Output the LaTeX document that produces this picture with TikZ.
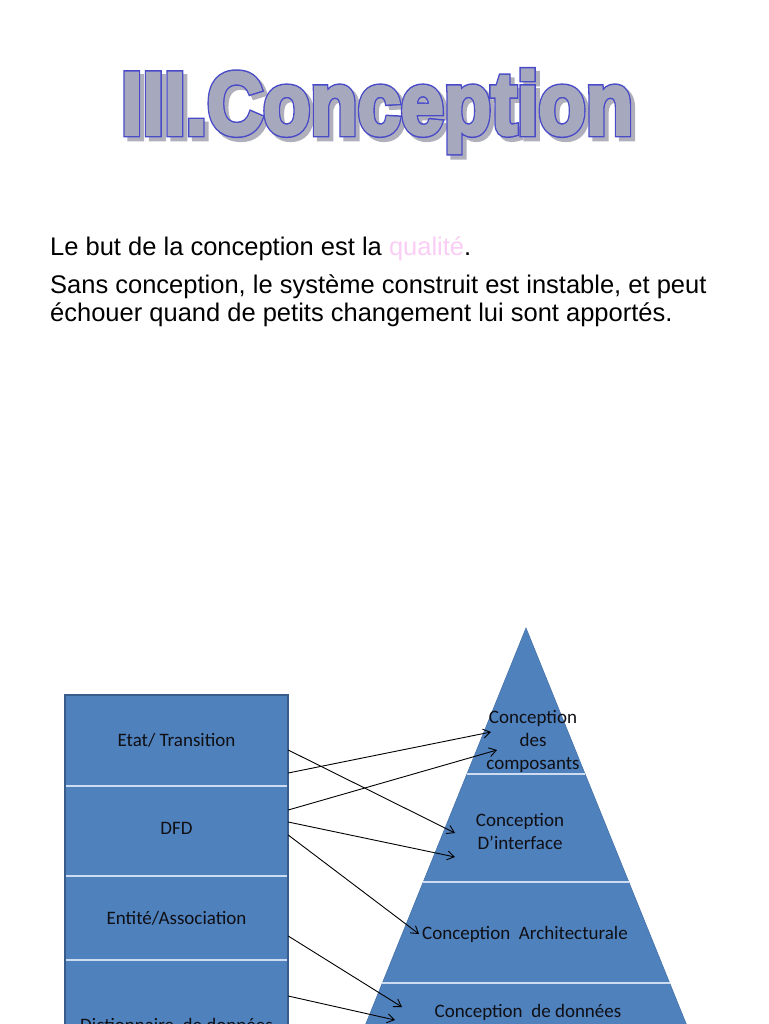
\documentclass[tikz,border=0pt]{standalone}
\usepackage{fontspec}
\setmainfont{Liberation Sans}
\newfontfamily\cpcalibri{Carlito}
\usetikzlibrary{arrows.meta,calc}
\definecolor{CpBlue}{RGB}{79,129,189}
\definecolor{CpEdge}{RGB}{56,93,138}
\definecolor{CpSep}{RGB}{205,220,240}
\definecolor{CpTitle}{RGB}{166,168,190}
\definecolor{CpTitleLine}{RGB}{72,74,200}
\definecolor{CpShadow}{RGB}{176,176,188}
\definecolor{CpPink}{RGB}{250,205,245}
\definecolor{CpInk}{RGB}{15,15,20}
% stroked text: #1 = stroke width, #2 = stroke colour (rgb)
\newcommand\cpstroke[3]{\special{pdf:literal direct 2 Tr #1 w 0 j 3 M #2 RG}#3\special{pdf:literal direct 0 Tr}}
\tikzset{
  cp/title/.style={
    anchor=base,
    inner sep=0pt,
    xscale=0.88,
    font=\fontsize{88}{90}\selectfont\bfseries
  },
  cp/body/.style={
    anchor=base west,
    inner sep=0pt,
    text=black,
    font=\fontsize{25.5}{30}\selectfont
  },
  cp/cell/.style={
    fill=CpBlue,
    minimum width=223pt,
    inner sep=0pt,
    text=CpInk,
    font=\cpcalibri\fontsize{19}{23}\selectfont
  },
  cp/layer/.style={
    align=center,
    inner sep=3pt,
    text=CpInk,
    font=\cpcalibri\fontsize{19}{23}\selectfont
  },
  cp/sep/.style={draw=CpSep, line width=2pt},
  cp/arrow/.style={-{Straight Barb[length=7pt,width=9pt]}, line width=0.9pt, draw=black}
}

\begin{document}
\begin{tikzpicture}[x=1pt,y=-1pt]
  \useasboundingbox (0,0) rectangle (768,1024);
  \clip (0,0) rectangle (768,1024);
  \fill[white] (0,0) rectangle (768,1024);

  % title
  \node[cp/title,text=CpShadow] (shadow) at (381,138) {\cpstroke{6.5}{0.69 0.69 0.737}{III.Conception}};
  \node[cp/title,text=CpTitleLine] (outline) at (377,134) {\cpstroke{6.5}{0.282 0.29 0.784}{III.Conception}};
  \node[cp/title,text=CpTitle] (title) at (377,134) {\cpstroke{3.5}{0.651 0.659 0.745}{III.Conception}};

  % text
  \node[cp/body] (line1) at (50,255) {Le but de la conception est la \textcolor{CpPink}{qualité}.};
  \node[cp/body] (line2) at (50,293) {Sans conception, le système construit est instable, et peut};
  \node[cp/body] (line3) at (50,321) {échouer quand de petits changement lui sont apportés.};

  % models
  \node[cp/cell,minimum height=91pt] (etat) at (176.5,740.5) {Etat/ Transition};
  \node[cp/cell,minimum height=90pt,text depth=5pt] (dfd) at (176.5,831) {DFD};
  \node[cp/cell,minimum height=84pt] (entite) at (176.5,918) {Entité/Association};
  \node[cp/cell,minimum height=130pt] (dico) at (176.5,1025) {Dictionnaire\ \ de données};
  \draw[cp/sep] (etat.south west) -- (etat.south east);
  \draw[cp/sep] (dfd.south west) -- (dfd.south east);
  \draw[cp/sep] (entite.south west) -- (entite.south east);
  \draw[CpEdge,line width=1.5pt] (etat.north west) rectangle (dico.south east);

  % pyramid
  \coordinate (apex) at (526,628);
  \coordinate (bl) at (335,1100);
  \coordinate (br) at (717,1100);
  \fill[CpBlue,draw=CpEdge!40!CpBlue,line width=0.6pt] (apex) -- (bl) -- (br) -- cycle;
  \foreach \t in {0.309,0.538,0.752}
    \draw[cp/sep] ($(apex)!\t!(bl)$) -- ($(apex)!\t!(br)$);

  \node[cp/layer] (comp) at (533,741) {Conception\\des\\composants};
  \node[cp/layer] (iface) at (520,831) {Conception\\D’interface};
  \node[cp/layer] (archi) at (525,934) {Conception\ \ Architecturale};
  \node[cp/layer] (donnees) at (528,1012) {Conception\ \ de données};

  % links
  \coordinate (t1) at (455,833);
  \coordinate (t2) at (491,732);
  \coordinate (t3) at (497,750);
  \coordinate (t4) at (455,857);
  \coordinate (t6) at (402,1007);
  \coordinate (t7) at (395,1020);
  \draw[cp/arrow] ([yshift=-9.5pt]etat.east) -- (t1);
  \draw[cp/arrow] ([yshift=-32.5pt]etat.east) -- (t2);
  \draw[cp/arrow] ([yshift=21pt]dfd.east) -- (t3);
  \draw[cp/arrow] ([yshift=9pt]dfd.east) -- (t4);
  \draw[cp/arrow] ([yshift=-4pt]dfd.east) -- (archi.west);
  \draw[cp/arrow] ([yshift=-18pt]entite.east) -- (t6);
  \draw[cp/arrow] ([yshift=29pt]dico.east) -- (t7);
\end{tikzpicture}
\end{document}
